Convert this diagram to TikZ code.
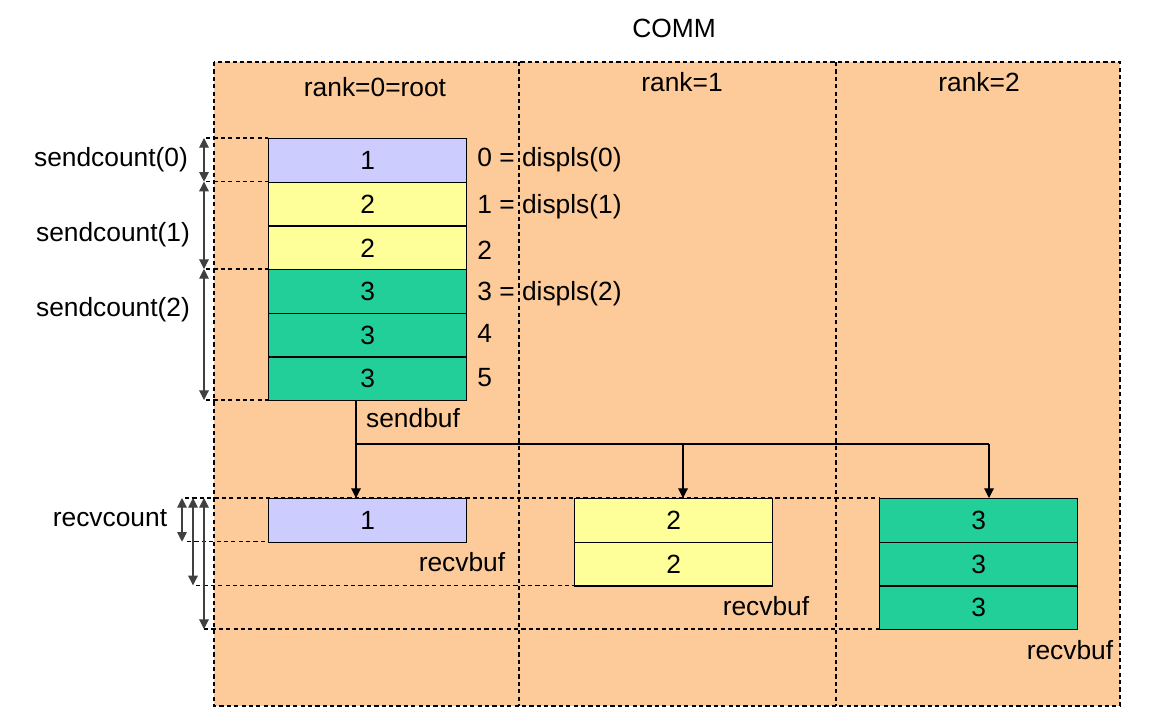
\documentclass[tikz,border=0pt]{standalone}
\usepackage{fontspec}
\setmainfont{Liberation Sans}
\usetikzlibrary{arrows.meta}
\definecolor{orng}{RGB}{253,202,153}
\definecolor{purp}{RGB}{204,204,255}
\definecolor{yel}{RGB}{255,255,153}
\definecolor{grn}{RGB}{34,207,153}
\begin{document}
\begin{tikzpicture}[x=0.02cm,y=-0.02cm,font=\fontsize{15}{18}\selectfont,
  dsh/.style={line width=0.7pt,dash pattern=on 2.4pt off 1.8pt},
  cell/.style={draw=black,line width=0.8pt,minimum width=3.96cm,minimum height=0.8733cm,inner sep=0pt,anchor=north west},
  dim/.style={line width=0.6pt,draw=black!75,{Triangle[length=5.5pt,width=5.5pt]}-{Triangle[length=5.5pt,width=5.5pt]}},
  arr/.style={line width=0.6pt,-{Triangle[length=5.5pt,width=5.5pt]}},
  lbl/.style={inner sep=0pt}]
\useasboundingbox (0,0) rectangle (1168,724);
% background region
\fill[orng] (214,62) rectangle (1120,706);
\draw[dsh] (214,62) rectangle (1120,706);
\draw[dsh] (519,62) -- (519,706);
\draw[dsh] (836,62) -- (836,706);
% titles
\node[lbl] (comm) at (674,28) {COMM};
\node[lbl] (rk0) at (375,87) {rank=0=root};
\node[lbl] (rk1) at (682,82) {rank=1};
\node[lbl] (rk2) at (979,82) {rank=2};
% dashed guides (send)
\draw[dsh] (206,138) -- (268,138);
\draw[dsh] (206,181.7) -- (268,181.7);
\draw[dsh] (206,269) -- (268,269);
\draw[dsh] (206,400) -- (268,400);
% dashed guides (recv)
\draw[dsh] (185,498) -- (879,498);
\draw[dsh] (187,541.7) -- (268,541.7);
\draw[dsh] (196,585.3) -- (574,585.3);
\draw[dsh] (204,629) -- (879,629);
% send buffer
\node[cell,fill=purp] (s0) at (268,138) {1};
\node[cell,fill=yel] (s1) at (268,181.7) {2};
\node[cell,fill=yel] (s2) at (268,225.3) {2};
\node[cell,fill=grn] (s3) at (268,269) {3};
\node[cell,fill=grn] (s4) at (268,312.7) {3};
\node[cell,fill=grn] (s5) at (268,356.3) {3};
% index labels
\node[lbl,anchor=west] (d0) at (477,160) {0 = displs(0)};
\node[lbl,anchor=west] (d1) at (477,207) {1 = displs(1)};
\node[lbl,anchor=west] (d2) at (477,250) {2};
\node[lbl,anchor=west] (d3) at (477,294) {3 = displs(2)};
\node[lbl,anchor=west] (d4) at (477,333) {4};
\node[lbl,anchor=west] (d5) at (477,378) {5};
% sendcount labels and arrows
\node[lbl] (sc0) at (111,160) {sendcount(0)};
\node[lbl] (sc1) at (113,235) {sendcount(1)};
\node[lbl] (sc2) at (113,310) {sendcount(2)};
\coordinate (a0) at (204,138);
\coordinate (a1) at (204,181.7);
\coordinate (a2) at (204,269);
\coordinate (a3) at (204,400);
\draw[dim] (a0) -- (a1);
\draw[dim] (a1) -- (a2);
\draw[dim] (a2) -- (a3);
\node[lbl] (sb) at (413,418) {sendbuf};
% receive buffers
\node[cell,fill=purp] (r0) at (268,498) {1};
\node[cell,fill=yel] (r1a) at (574,498) {2};
\node[cell,fill=yel] (r1b) at (574,541.7) {2};
\node[cell,fill=grn] (r2a) at (879,498) {3};
\node[cell,fill=grn] (r2b) at (879,541.7) {3};
\node[cell,fill=grn] (r2c) at (879,585.3) {3};
\node[lbl] (rb0) at (462,562) {recvbuf};
\node[lbl] (rb1) at (766,606) {recvbuf};
\node[lbl] (rb2) at (1070,650) {recvbuf};
% recvcount
\node[lbl] (rc) at (110,518) {recvcount};
\coordinate (b0) at (182,498);
\coordinate (b1) at (182,541.7);
\coordinate (c0) at (193,498);
\coordinate (c1) at (193,585.3);
\coordinate (e0) at (204,498);
\coordinate (e1) at (204,629);
\draw[dim] (b0) -- (b1);
\draw[dim] (c0) -- (c1);
\draw[dim] (e0) -- (e1);
% scatter connectors
\coordinate (j0) at (356,444);
\coordinate (j1) at (683,444);
\coordinate (j2) at (989,444);
\draw[line width=0.6pt] (j0 |- s5.south) -- (j0) -- (j2);
\draw[arr] (j0) -- (j0 |- r0.north);
\draw[arr] (j1) -- (j1 |- r1a.north);
\draw[arr] (j2) -- (j2 |- r2a.north);
\end{tikzpicture}
\end{document}
